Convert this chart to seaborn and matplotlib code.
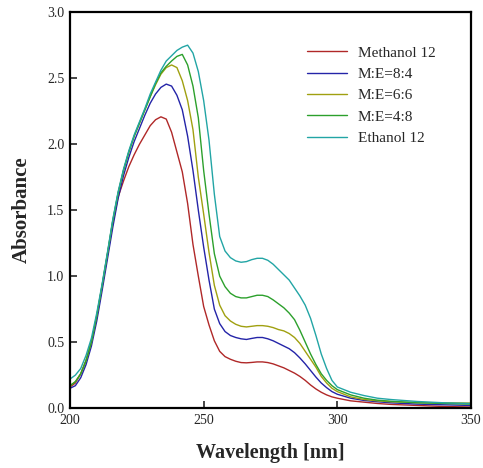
import numpy as np
import pandas as pd
import matplotlib
matplotlib.use("Agg")
import matplotlib.pyplot as plt
import seaborn as sns

# wavelength grid (nm)
wavelength = [200, 202, 204, 206, 208, 210, 212, 214, 216, 218, 220, 222, 224, 226, 228,
              230, 232, 234, 236, 238, 240, 242, 244, 246, 248, 250, 252, 254, 256, 258,
              260, 262, 264, 266, 268, 270, 272, 274, 276, 278, 280, 282, 284, 286, 288,
              290, 292, 294, 296, 298, 300, 305, 310, 315, 320, 330, 340, 350]

methanol_12 = [0.16, 0.19, 0.26, 0.36, 0.50, 0.69, 0.92, 1.16, 1.40, 1.60, 1.72, 1.83, 1.92, 2.00, 2.07,
               2.14, 2.185, 2.207, 2.19, 2.09, 1.94, 1.79, 1.55, 1.24, 1.00, 0.77, 0.63, 0.51, 0.43, 0.39,
               0.37, 0.355, 0.345, 0.343, 0.346, 0.35, 0.35, 0.345, 0.335, 0.32, 0.305, 0.285, 0.265, 0.24, 0.21,
               0.175, 0.145, 0.12, 0.10, 0.085, 0.075, 0.055, 0.045, 0.035, 0.028, 0.02, 0.012, 0.008]

me_8_4 = [0.15, 0.17, 0.23, 0.33, 0.47, 0.66, 0.89, 1.13, 1.37, 1.59, 1.76, 1.90, 2.02, 2.12, 2.22,
          2.31, 2.38, 2.43, 2.455, 2.44, 2.37, 2.26, 2.06, 1.80, 1.50, 1.22, 0.97, 0.75, 0.64, 0.58,
          0.55, 0.535, 0.525, 0.52, 0.528, 0.535, 0.535, 0.525, 0.51, 0.49, 0.47, 0.45, 0.42, 0.38, 0.335,
          0.285, 0.235, 0.19, 0.155, 0.125, 0.105, 0.075, 0.058, 0.048, 0.04, 0.03, 0.025, 0.02]

me_6_6 = [0.17, 0.20, 0.26, 0.36, 0.50, 0.70, 0.93, 1.17, 1.42, 1.63, 1.80, 1.94, 2.06, 2.16, 2.26,
          2.36, 2.45, 2.53, 2.58, 2.60, 2.58, 2.48, 2.33, 2.11, 1.75, 1.47, 1.18, 0.93, 0.78, 0.70,
          0.66, 0.635, 0.62, 0.615, 0.62, 0.625, 0.625, 0.62, 0.61, 0.595, 0.585, 0.565, 0.535, 0.49, 0.43,
          0.37, 0.31, 0.24, 0.19, 0.15, 0.125, 0.085, 0.065, 0.055, 0.048, 0.042, 0.04, 0.038]

me_4_8 = [0.17, 0.20, 0.26, 0.36, 0.50, 0.70, 0.93, 1.17, 1.42, 1.63, 1.80, 1.94, 2.06, 2.16, 2.26,
          2.36, 2.46, 2.54, 2.59, 2.63, 2.665, 2.68, 2.60, 2.44, 2.20, 1.80, 1.47, 1.17, 1.00, 0.92,
          0.87, 0.845, 0.835, 0.835, 0.845, 0.855, 0.855, 0.845, 0.82, 0.79, 0.76, 0.72, 0.67, 0.59, 0.50,
          0.41, 0.33, 0.26, 0.21, 0.17, 0.14, 0.10, 0.075, 0.06, 0.052, 0.04, 0.035, 0.03]

ethanol_12 = [0.22, 0.25, 0.30, 0.40, 0.53, 0.72, 0.94, 1.18, 1.43, 1.64, 1.81, 1.95, 2.07, 2.17, 2.27,
              2.38, 2.47, 2.56, 2.63, 2.67, 2.71, 2.735, 2.75, 2.69, 2.55, 2.33, 2.03, 1.62, 1.30, 1.19,
              1.14, 1.115, 1.105, 1.11, 1.125, 1.135, 1.135, 1.12, 1.09, 1.05, 1.01, 0.97, 0.91, 0.85, 0.78,
              0.68, 0.55, 0.41, 0.30, 0.21, 0.16, 0.12, 0.095, 0.075, 0.065, 0.05, 0.04, 0.035]

labels = ["Methanol 12", "M:E=8:4", "M:E=6:6", "M:E=4:8", "Ethanol 12"]
colors = ["#b02828", "#2424a8", "#a0a010", "#2ca02c", "#22a5a5"]

series = [methanol_12, me_8_4, me_6_6, me_4_8, ethanol_12]
df = pd.concat([pd.DataFrame({"Wavelength": wavelength, "Absorbance": s, "Sample": lab})
                for s, lab in zip(series, labels)], ignore_index=True)

sns.set_style("white")
plt.rcParams["font.family"] = ["Liberation Serif", "DejaVu Serif"]

fig = plt.figure(figsize=(4.83, 4.68), dpi=100)
ax = fig.add_axes([0.145, 0.128, 0.830, 0.846])

sns.lineplot(data=df, x="Wavelength", y="Absorbance", hue="Sample", hue_order=labels,
             palette=colors, linewidth=1.0, ax=ax)

ax.set_xlim(200, 350)
ax.set_ylim(0, 3.0)
ax.set_xticks([200, 250, 300, 350])
ax.set_yticks(np.arange(0, 3.01, 0.5))
ax.set_yticklabels([f"{v:.1f}" for v in np.arange(0, 3.01, 0.5)])
ax.tick_params(direction="in", length=5, width=1.2, labelsize=10, pad=4,
               bottom=True, left=True, top=False, right=False)
for sp in ax.spines.values():
    sp.set_linewidth(1.6)
    sp.set_color("black")

ax.set_xlabel("Wavelength [nm]", fontsize=14.5, fontweight="bold", labelpad=12)
ax.set_ylabel("Absorbance", fontsize=15, fontweight="bold", labelpad=11)

leg = ax.legend(loc="upper left", bbox_to_anchor=(0.592, 0.915), frameon=False,
                fontsize=11, handlelength=2.6, handletextpad=0.7, labelspacing=0.5,
                borderpad=0, borderaxespad=0)

fig.savefig("out.png", dpi=100)
